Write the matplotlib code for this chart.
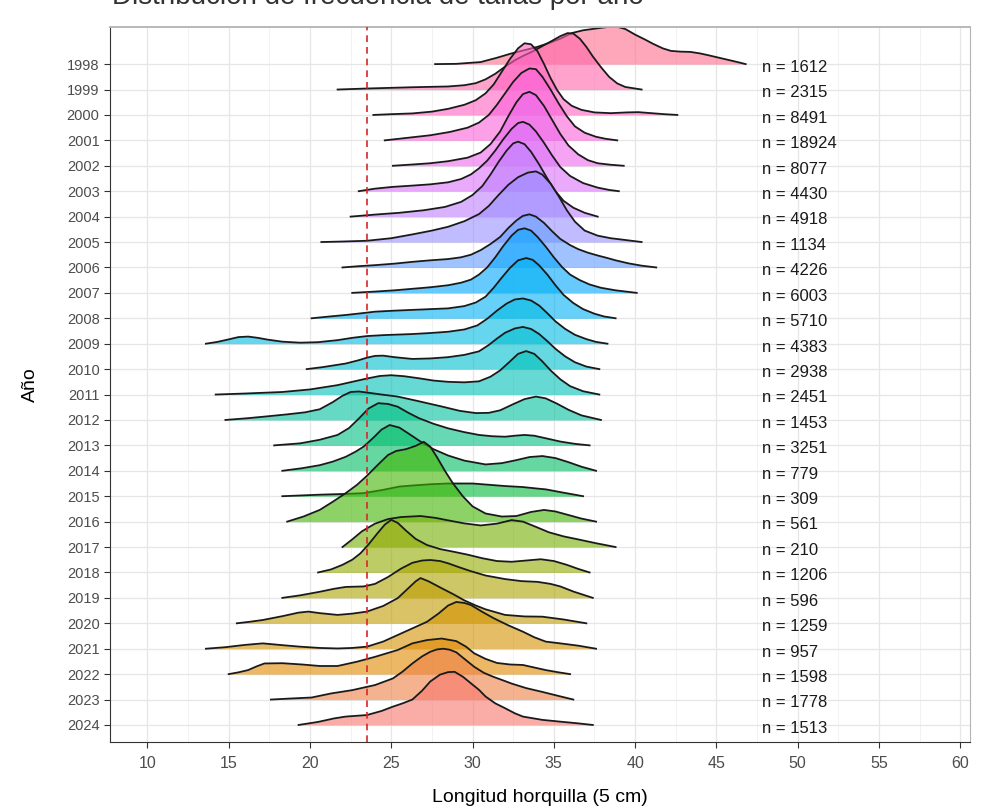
import numpy as np
import matplotlib
matplotlib.use("Agg")
from matplotlib import pyplot as plt

plt.rcParams['font.family'] = ['Liberation Sans', 'DejaVu Sans']

# datos
years = list(range(1998, 2025))
n_values = [1612, 2315, 8491, 18924, 8077, 4430, 4918, 1134, 4226, 6003, 5710, 4383, 2938,
            2451, 1453, 3251, 779, 309, 561, 210, 1206, 596, 1259, 957, 1598, 1778, 1513]

# perfiles: (longitud, altura en filas)
d1998 = [(27.7, 0), (29, 0.01), (30.5, 0.08), (31.5, 0.25), (32.4, 0.42), (33.2, 0.55), (34.0, 0.68), (34.8, 0.85),
         (35.4, 1.0), (36.1, 1.22), (36.8, 1.33), (37.7, 1.41), (38.3, 1.46), (38.9, 1.47), (39.4, 1.38), (40.0, 1.16),
         (40.6, 0.97), (41.1, 0.8), (41.7, 0.62), (42.2, 0.52), (42.8, 0.49), (43.4, 0.48), (44.0, 0.42), (44.5, 0.35),
         (45.1, 0.26), (45.7, 0.17), (46.3, 0.08), (46.8, 0)]
d1999 = [(21.7, 0), (23.5, 0.04), (26.3, 0.09), (28.5, 0.12), (29.5, 0.17), (30.2, 0.25), (30.8, 0.4), (31.4, 0.62),
         (32.0, 0.9), (32.6, 1.15), (33.1, 1.32), (33.7, 1.5), (34.3, 1.71), (34.9, 1.92), (35.4, 2.1), (35.85, 2.22),
         (36.2, 2.2), (36.6, 2.0), (37.0, 1.68), (37.4, 1.3), (37.9, 0.88), (38.4, 0.5), (38.9, 0.24), (39.4, 0.1), (40.4, 0)]
d2000 = [(23.9, 0), (25, 0.03), (26.3, 0.06), (27.5, 0.13), (28.5, 0.24), (29.5, 0.4), (30.2, 0.58), (30.8, 0.85),
         (31.3, 1.2), (31.8, 1.7), (32.3, 2.2), (32.8, 2.62), (33.2, 2.82), (33.6, 2.78), (34.0, 2.5), (34.4, 2.0),
         (34.8, 1.45), (35.2, 0.98), (35.6, 0.62), (36.1, 0.36), (36.7, 0.2), (37.5, 0.1), (38.5, 0.07), (39.5, 0.1),
         (40.2, 0.11), (41.0, 0.07), (41.8, 0.03), (42.6, 0)]
d2001 = [(24.6, 0), (26, 0.1), (27.4, 0.2), (28.6, 0.33), (29.7, 0.5), (30.4, 0.7), (31.0, 1.0), (31.5, 1.4),
         (32.0, 1.85), (32.5, 2.3), (33.0, 2.65), (33.5, 2.83), (33.9, 2.8), (34.3, 2.5), (34.8, 2.0), (35.3, 1.45),
         (35.8, 0.95), (36.3, 0.55), (36.9, 0.3), (37.6, 0.14), (38.2, 0.06), (38.9, 0)]
d2002 = [(25.1, 0), (26.3, 0.05), (27.4, 0.1), (28.5, 0.18), (29.7, 0.32), (30.5, 0.52), (31.1, 0.85), (31.7, 1.35),
         (32.2, 1.95), (32.7, 2.5), (33.1, 2.82), (33.5, 2.91), (33.9, 2.78), (34.4, 2.35), (34.9, 1.8), (35.4, 1.25),
         (35.9, 0.8), (36.5, 0.45), (37.1, 0.22), (37.7, 0.1), (38.5, 0.04), (39.3, 0)]
d2003 = [(23.0, 0), (24.0, 0.1), (25.1, 0.17), (26.3, 0.22), (27.4, 0.27), (28.5, 0.35), (29.3, 0.48), (29.9, 0.66),
         (30.4, 0.9), (30.9, 1.2), (31.4, 1.6), (31.9, 2.05), (32.4, 2.45), (32.8, 2.68), (33.1, 2.73), (33.5, 2.62),
         (33.9, 2.35), (34.4, 1.9), (34.9, 1.4), (35.4, 0.95), (36.0, 0.6), (36.8, 0.32), (37.7, 0.14), (38.4, 0.05),
         (39.0, 0)]
d2004 = [(22.5, 0), (24.0, 0.08), (25.5, 0.15), (27.0, 0.25), (28.3, 0.38), (29.3, 0.58), (30.0, 0.85), (30.6, 1.2),
         (31.1, 1.65), (31.6, 2.15), (32.1, 2.6), (32.5, 2.88), (32.8, 2.95), (33.2, 2.85), (33.6, 2.55), (34.1, 2.05),
         (34.6, 1.5), (35.1, 1.0), (35.6, 0.62), (36.2, 0.35), (36.9, 0.15), (37.7, 0)]
d2005 = [(20.7, 0), (22, 0.02), (23.5, 0.05), (25, 0.15), (26.3, 0.3), (27.5, 0.45), (28.5, 0.6), (29.5, 0.82),
         (30.4, 1.1), (31.0, 1.42), (31.6, 1.85), (32.2, 2.25), (32.8, 2.55), (33.4, 2.73), (33.9, 2.78), (34.3, 2.65),
         (34.8, 2.3), (35.3, 1.8), (35.8, 1.25), (36.3, 0.8), (36.9, 0.45), (37.7, 0.25), (38.5, 0.15), (39.4, 0.08),
         (40.4, 0)]
d2006 = [(22.0, 0), (23, 0.05), (24.0, 0.09), (25.2, 0.15), (26.3, 0.22), (27.4, 0.28), (28.5, 0.33), (29.3, 0.4),
         (29.9, 0.5), (30.5, 0.68), (31.1, 0.92), (31.7, 1.2), (32.2, 1.55), (32.7, 1.85), (33.1, 2.03), (33.5, 2.09),
         (33.9, 2.0), (34.4, 1.75), (34.9, 1.42), (35.4, 1.12), (36.0, 0.88), (36.5, 0.72), (37.1, 0.58), (37.7, 0.47),
         (38.3, 0.37), (38.8, 0.28), (39.6, 0.16), (40.4, 0.07), (41.3, 0)]
d2007 = [(22.6, 0), (24.0, 0.05), (25.2, 0.1), (26.3, 0.16), (27.4, 0.22), (28.5, 0.3), (29.3, 0.4), (29.9, 0.52),
         (30.4, 0.72), (30.9, 1.0), (31.4, 1.4), (31.9, 1.85), (32.4, 2.25), (32.8, 2.48), (33.2, 2.54), (33.6, 2.45),
         (34.0, 2.2), (34.5, 1.82), (35.0, 1.4), (35.5, 1.02), (36.0, 0.72), (36.6, 0.5), (37.2, 0.33), (37.9, 0.2),
         (38.8, 0.1), (40.1, 0)]
d2008 = [(20.1, 0), (21.2, 0.07), (22.2, 0.13), (23.2, 0.2), (24.0, 0.26), (25.2, 0.3), (26.3, 0.33), (27.4, 0.36),
         (28.5, 0.39), (29.5, 0.48), (30.2, 0.62), (30.8, 0.85), (31.3, 1.2), (31.8, 1.6), (32.3, 1.98), (32.8, 2.28),
         (33.3, 2.37), (33.7, 2.3), (34.1, 2.08), (34.6, 1.72), (35.1, 1.3), (35.6, 0.92), (36.2, 0.6), (36.8, 0.36),
         (37.5, 0.18), (38.1, 0.07), (38.8, 0)]
d2009 = [(13.6, 0), (14.3, 0.07), (15.0, 0.17), (15.6, 0.26), (16.2, 0.28), (16.8, 0.23), (17.4, 0.16), (18.3, 0.08),
         (19.4, 0.04), (20.5, 0.06), (21.7, 0.14), (22.6, 0.23), (23.5, 0.3), (24.6, 0.34), (26.3, 0.38), (27.4, 0.42),
         (28.5, 0.47), (29.5, 0.56), (30.3, 0.72), (30.9, 0.98), (31.5, 1.3), (32.1, 1.58), (32.6, 1.74), (33.1, 1.78),
         (33.6, 1.7), (34.1, 1.5), (34.6, 1.2), (35.1, 0.88), (35.7, 0.58), (36.3, 0.35), (37.0, 0.18), (37.6, 0.07),
         (38.3, 0)]
d2010 = [(19.8, 0), (20.8, 0.08), (22.2, 0.22), (23.0, 0.35), (23.5, 0.45), (24.0, 0.52), (24.5, 0.53), (25.2, 0.47),
         (26.3, 0.4), (27.4, 0.42), (28.5, 0.47), (29.5, 0.56), (30.4, 0.7), (31.0, 0.95), (31.5, 1.2), (32.0, 1.43),
         (32.6, 1.6), (33.1, 1.66), (33.6, 1.58), (34.1, 1.38), (34.6, 1.1), (35.1, 0.8), (35.7, 0.5), (36.3, 0.27),
         (37.0, 0.1), (37.8, 0)]
d2011 = [(14.2, 0), (16.0, 0.04), (18.3, 0.1), (20.0, 0.2), (21.7, 0.37), (22.6, 0.5), (23.5, 0.63), (24.3, 0.73),
         (25.0, 0.76), (25.8, 0.72), (26.7, 0.64), (27.6, 0.55), (28.5, 0.5), (29.5, 0.48), (30.4, 0.52), (31.1, 0.7),
         (31.7, 0.95), (32.3, 1.3), (32.8, 1.6), (33.3, 1.71), (33.8, 1.6), (34.3, 1.3), (34.8, 0.95), (35.4, 0.6),
         (36.0, 0.33), (36.8, 0.13), (37.8, 0)]
d2012 = [(14.8, 0), (16.2, 0.07), (17.5, 0.15), (18.6, 0.22), (19.7, 0.3), (20.6, 0.42), (21.4, 0.7), (22.0, 0.95),
         (22.5, 1.1), (23.0, 1.12), (23.5, 1.08), (24.4, 1.0), (25.4, 0.92), (26.6, 0.75), (28.1, 0.53), (29.2, 0.36),
         (30.2, 0.27), (31.0, 0.28), (31.7, 0.38), (32.5, 0.62), (33.2, 0.82), (33.9, 0.92), (34.5, 0.85), (35.2, 0.64),
         (35.9, 0.4), (36.7, 0.18), (37.9, 0)]
d2013 = [(17.8, 0), (18.6, 0.04), (19.4, 0.08), (20.6, 0.22), (21.7, 0.41), (22.4, 0.68), (23.0, 1.05), (23.6, 1.45),
         (24.2, 1.66), (24.8, 1.63), (25.4, 1.52), (26.0, 1.3), (26.7, 1.07), (27.6, 0.85), (28.5, 0.67), (29.5, 0.52),
         (30.4, 0.41), (31.2, 0.36), (32.0, 0.34), (32.6, 0.38), (33.2, 0.41), (33.8, 0.38), (34.5, 0.28), (35.4, 0.15),
         (36.3, 0.06), (37.2, 0)]
d2014 = [(18.3, 0), (19.5, 0.1), (20.6, 0.22), (21.4, 0.36), (22.2, 0.55), (22.8, 0.75), (23.3, 0.95), (23.9, 1.3),
         (24.4, 1.62), (24.9, 1.8), (25.5, 1.7), (26.1, 1.45), (26.8, 1.15), (27.6, 0.85), (28.5, 0.6), (29.5, 0.4),
         (30.8, 0.25), (31.8, 0.3), (32.7, 0.42), (33.5, 0.54), (34.3, 0.58), (35.1, 0.5), (35.9, 0.34), (36.7, 0.16),
         (37.6, 0)]
d2015 = [(18.3, 0), (20.6, 0.06), (22.2, 0.09), (23.3, 0.12), (24.5, 0.25), (25.5, 0.38), (26.5, 0.43), (27.4, 0.47),
         (28.5, 0.5), (30.0, 0.5), (30.8, 0.46), (32.0, 0.4), (33.1, 0.36), (34.0, 0.3), (34.5, 0.27), (35.5, 0.15),
         (36.8, 0)]
d2016 = [(18.6, 0), (19.6, 0.2), (20.6, 0.46), (21.4, 0.78), (22.2, 1.12), (22.9, 1.45), (23.5, 1.8), (24.2, 2.25),
         (24.8, 2.62), (25.3, 2.78), (25.9, 2.85), (26.5, 2.98), (27.0, 3.14), (27.4, 2.95), (27.8, 2.55), (28.3, 2.0),
         (28.8, 1.5), (29.4, 1.0), (30.0, 0.6), (30.8, 0.32), (31.8, 0.2), (32.7, 0.22), (33.6, 0.38), (34.4, 0.46),
         (35.1, 0.4), (35.9, 0.26), (36.7, 0.12), (37.6, 0)]
d2017 = [(22.0, 0), (22.6, 0.3), (23.2, 0.62), (24.0, 0.92), (24.8, 1.1), (25.6, 1.18), (26.8, 1.22), (27.7, 1.15),
         (28.5, 1.05), (29.5, 0.93), (30.5, 0.85), (31.5, 0.92), (32.4, 1.06), (33.1, 1.0), (33.8, 0.82), (34.7, 0.58),
         (35.6, 0.42), (36.5, 0.3), (37.6, 0.15), (38.8, 0)]
d2018 = [(20.5, 0), (21.3, 0.12), (22.0, 0.3), (22.6, 0.5), (23.1, 0.75), (23.6, 1.1), (24.1, 1.5), (24.6, 1.88),
         (25.0, 2.07), (25.4, 1.95), (25.9, 1.65), (26.5, 1.32), (27.2, 1.08), (28.0, 0.92), (28.8, 0.82), (29.7, 0.7),
         (30.6, 0.56), (31.5, 0.45), (32.4, 0.42), (33.3, 0.47), (34.2, 0.52), (35.0, 0.45), (35.8, 0.3), (36.5, 0.14),
         (37.2, 0)]
d2019 = [(18.3, 0), (19.4, 0.1), (20.6, 0.24), (21.5, 0.36), (22.2, 0.43), (23.3, 0.45), (24.0, 0.55), (24.8, 0.82),
         (25.6, 1.15), (26.3, 1.38), (26.9, 1.47), (27.4, 1.49), (28.0, 1.45), (28.5, 1.36), (29.2, 1.2), (29.9, 1.05),
         (30.8, 0.88), (32.0, 0.74), (33.0, 0.66), (34.0, 0.63), (34.8, 0.55), (35.4, 0.45), (36.2, 0.25), (37.4, 0)]
d2020 = [(15.5, 0), (16.3, 0.06), (17.1, 0.13), (18.3, 0.28), (19.3, 0.42), (19.9, 0.46), (20.6, 0.4), (21.7, 0.33),
         (22.6, 0.38), (23.5, 0.46), (24.5, 0.68), (25.4, 0.99), (26.0, 1.35), (26.5, 1.65), (26.8, 1.78), (27.3, 1.65),
         (28.1, 1.38), (28.8, 1.15), (29.5, 0.9), (30.2, 0.7), (30.8, 0.55), (32.0, 0.33), (33.2, 0.27), (34.3, 0.26),
         (35.6, 0.15), (37.0, 0)]
d2021 = [(13.6, 0), (14.8, 0.06), (16.0, 0.15), (17.1, 0.21), (18.3, 0.14), (19.4, 0.08), (20.6, 0.03), (21.7, 0.01),
         (22.6, 0.03), (23.5, 0.08), (24.5, 0.28), (25.4, 0.54), (26.3, 0.8), (27.2, 1.06), (27.9, 1.38), (28.5, 1.7),
         (29.0, 1.84), (29.5, 1.8), (29.9, 1.72), (30.6, 1.45), (31.3, 1.2), (32.2, 0.92), (33.1, 0.67), (33.8, 0.45),
         (34.5, 0.28), (35.4, 0.21), (36.5, 0.12), (37.6, 0)]
d2022 = [(15.0, 0), (15.6, 0.07), (16.2, 0.16), (16.7, 0.3), (17.2, 0.42), (18.3, 0.43), (19.5, 0.38), (20.6, 0.32),
         (21.7, 0.32), (22.9, 0.49), (24.0, 0.68), (25.4, 0.95), (26.3, 1.21), (27.2, 1.34), (28.1, 1.4), (29.0, 1.3),
         (29.6, 1.08), (30.1, 0.82), (30.8, 0.6), (31.5, 0.44), (32.3, 0.38), (33.1, 0.36), (33.8, 0.26), (34.5, 0.16),
         (35.3, 0.07), (36.0, 0)]
d2023 = [(17.6, 0), (18.8, 0.04), (20.1, 0.08), (21.3, 0.24), (22.6, 0.37), (24.0, 0.57), (25.1, 0.83), (25.7, 1.1),
         (26.3, 1.42), (26.9, 1.7), (27.4, 1.88), (27.8, 1.97), (28.2, 2.0), (28.6, 1.96), (29.0, 1.86), (29.5, 1.6),
         (30.1, 1.29), (30.7, 1.05), (31.3, 0.89), (31.9, 0.75), (32.4, 0.63), (33.3, 0.45), (34.3, 0.3), (35.3, 0.14),
         (36.2, 0)]
d2024 = [(19.3, 0), (20.5, 0.12), (21.5, 0.26), (22.2, 0.33), (23.5, 0.39), (24.4, 0.55), (25.1, 0.72), (25.7, 0.85),
         (26.3, 1.0), (26.9, 1.35), (27.4, 1.71), (28.0, 1.98), (28.5, 2.08), (28.9, 2.09), (29.4, 1.9), (29.9, 1.64),
         (30.4, 1.38), (30.8, 1.12), (31.4, 0.85), (32.0, 0.66), (32.6, 0.46), (33.1, 0.33), (34.3, 0.2), (35.4, 0.13),
         (36.4, 0.07), (37.4, 0)]
ridges = [d1998, d1999, d2000, d2001, d2002, d2003, d2004, d2005, d2006, d2007, d2008, d2009, d2010, d2011,
          d2012, d2013, d2014, d2015, d2016, d2017, d2018, d2019, d2020, d2021, d2022, d2023, d2024]
x_ticks = [10, 15, 20, 25, 30, 35, 40, 45, 50, 55, 60]
ref_line = 23.5


def hcl_to_rgb(h, c=100, l=65):
    # paleta por defecto de ggplot (hue_pal)
    hr = np.radians(h)
    u, v = c * np.cos(hr), c * np.sin(hr)
    xn, yn, zn = 95.047, 100.0, 108.883
    y = yn * ((l + 16) / 116) ** 3
    un = 4 * xn / (xn + 15 * yn + 3 * zn)
    vn = 9 * yn / (xn + 15 * yn + 3 * zn)
    up = u / (13 * l) + un
    vp = v / (13 * l) + vn
    x = y * 9 * up / (4 * vp)
    z = y * (12 - 3 * up - 20 * vp) / (4 * vp)
    m = np.array([[3.2406, -1.5372, -0.4986], [-0.9689, 1.8758, 0.0415], [0.0557, -0.2040, 1.0570]])
    rgb = np.clip(m @ (np.array([x, y, z]) / 100), 0, None)
    rgb = np.where(rgb <= 0.0031308, 12.92 * rgb, 1.055 * rgb ** (1 / 2.4) - 0.055)
    return tuple(np.clip(rgb, 0, 1))


n = len(years)
hues = [15 + 360 * i / n for i in range(n)]

fig = plt.figure(figsize=(9.86, 8.06), dpi=100)
ax = fig.add_axes([110 / 986, 1 - 742 / 806, 860 / 986, 715 / 806])

for i, year in enumerate(years):
    pos = 2024 - year
    col = hcl_to_rgb(hues[pos])
    pts = np.array(ridges[i])
    xs, hs = pts[:, 0], pts[:, 1]
    z = 2 + i
    ax.fill_between(xs, pos, pos + hs, color=col, alpha=0.6, lw=0, zorder=z)
    ax.plot(xs, pos + hs, color='#1a1a1a', lw=1.3, zorder=z + 0.5, solid_joinstyle='round')
    ax.text(47.8, pos - 0.13, "n = %d" % n_values[i], fontsize=12, va='center', ha='left', color='#1a1a1a', zorder=40)

ax.axvline(ref_line, color='#d62828', ls=(0, (4, 3)), lw=1.2, zorder=35)

ax.set_xlim(7.7, 60.6)
ax.set_ylim(-0.67, 27.46)
ax.set_xticks(x_ticks)
ax.set_xticks(np.arange(12.5, 60, 5), minor=True)
ax.set_yticks([2024 - y for y in years])
ax.set_yticklabels([str(y) for y in years])
ax.grid(which='major', color='#e6e6e6', lw=0.9, zorder=0)
ax.grid(which='minor', axis='x', color='#f2f2f2', lw=0.7, zorder=0)
ax.set_axisbelow(True)
ax.tick_params(axis='both', colors='#333333', labelcolor='#4d4d4d', length=4, width=0.8)
ax.tick_params(axis='y', labelsize=10.5)
ax.tick_params(axis='x', labelsize=11.5, pad=6)
ax.tick_params(which='minor', length=0)
for s in ['top', 'right']:
    ax.spines[s].set_color('#b3b3b3')
ax.spines['top'].set_linewidth(1.3)
for s in ['left', 'bottom']:
    ax.spines[s].set_color('#333333')

ax.set_xlabel("Longitud horquilla (5 cm)", fontsize=14, labelpad=13)
ax.set_ylabel("Año", fontsize=14, labelpad=20)
# el titulo queda cortado por el borde superior, como en la imagen original
fig.text(112 / 986, 1 - 4 / 806, "Distribución de frecuencia de tallas por año", fontsize=20,
         color='#333333', va='baseline', ha='left')

fig.savefig("out.png", dpi=100)
